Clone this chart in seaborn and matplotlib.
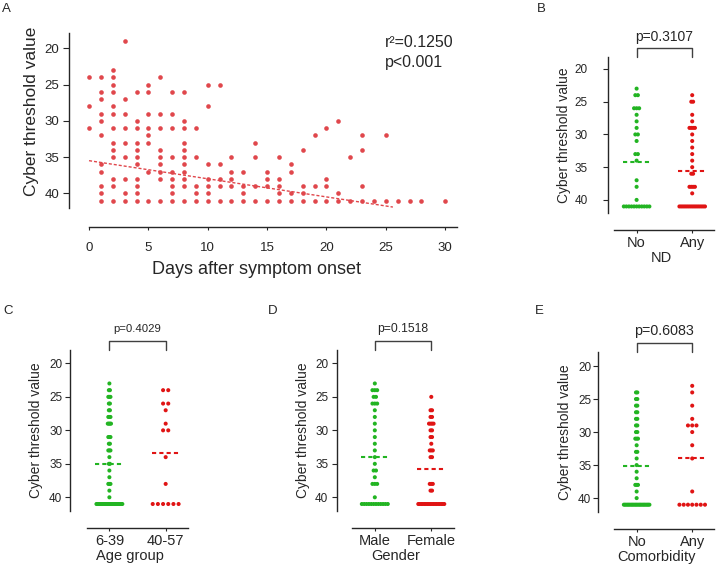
import numpy as np
import pandas as pd
import seaborn as sns
import matplotlib.pyplot as plt

# ---- panel A: one entry per dot, laid out day by day
onset_day = [
    0, 0, 0,
    1, 1, 1, 1, 1, 1, 1, 1, 1, 1, 1,
    2, 2, 2, 2, 2, 2, 2, 2, 2, 2, 2, 2, 2,
    3, 3, 3, 3, 3, 3, 3, 3, 3,
    4, 4, 4, 4, 4, 4, 4, 4, 4, 4, 4,
    5, 5, 5, 5, 5, 5, 5, 5,
    6, 6, 6, 6, 6, 6, 6, 6, 6,
    7, 7, 7, 7, 7, 7, 7, 7, 7,
    8, 8, 8, 8, 8, 8, 8, 8, 8, 8, 8,
    9, 9, 9, 9, 9,
    10, 10, 10, 10, 10, 10, 10,
    11, 11, 11, 11, 11,
    12, 12, 12, 12, 12,
    13, 13, 13, 13,
    14, 14, 14, 14,
    15, 15, 15, 15,
    16, 16, 16, 16, 16,
    17, 17, 17, 17,
    18, 18, 18, 18,
    19, 19, 19,
    20, 20, 20, 20,
    21, 21, 21,
    22, 22,
    23, 23, 23, 23,
    24,
    25, 25,
    26, 27, 28, 30,
]
ct_onset = [
    24, 28, 31,
    24, 26, 27, 29, 30, 32, 36, 37, 39, 40, 41,
    23, 24, 25, 26, 28, 29, 31, 33, 34, 35, 38, 39, 41,
    19, 27, 29, 31, 33, 35, 38, 40, 41,
    26, 30, 31, 33, 34, 35, 36, 38, 39, 40, 41,
    25, 26, 29, 31, 32, 33, 37, 41,
    24, 29, 31, 34, 35, 36, 37, 38, 41,
    26, 29, 31, 35, 37, 38, 39, 40, 41,
    26, 30, 31, 33, 34, 35, 36, 37, 38, 39, 41,
    31, 35, 39, 40, 41,
    25, 28, 36, 38, 39, 40, 41,
    25, 36, 38, 39, 41,
    35, 37, 38, 39, 41,
    37, 39, 40, 41,
    33, 35, 39, 41,
    37, 38, 39, 41,
    35, 38, 39, 40, 41,
    36, 37, 40, 41,
    34, 39, 40, 41,
    32, 39, 41,
    31, 38, 39, 41,
    30, 40, 41,
    35, 41,
    32, 34, 39, 41,
    41,
    32, 41,
    41, 41, 41, 41,
]
# regression line as drawn in the figure (fitted on all patients, many dots overlap)
fit_days = [0, 25.6]
fit_ct = [35.5, 41.9]
a_ticks_x = [0, 5, 10, 15, 20, 25, 30]
ct_ticks = [20, 25, 30, 35, 40]
a_stats = ["r²=0.1250", "p<0.001"]

# ---- panels B-E: two groups each
nd_labels = ["No", "Any"]
nd_no = [23, 24, 24, 26, 26, 26, 27, 28, 29, 30, 30, 31, 33, 33, 34, 37, 38, 40] + [41] * 11
nd_any = [24, 25, 25, 27, 28, 29, 29, 29, 29, 30, 31, 32, 33, 34, 35, 36, 36,
          38, 38, 38, 38, 39] + [41] * 15
nd_p = "p=0.3107"

age_labels = ["6-39", "40-57"]
age_young = [23, 24, 24, 25, 25, 25, 26, 26, 27, 27, 28, 28, 28, 29, 29, 29, 29,
             31, 31, 31, 32, 32, 33, 33, 33, 34, 35, 35, 36, 37, 38, 38, 38, 39, 40] + [41] * 25
age_old = [24, 24, 26, 26, 27, 29, 30, 30, 34, 38] + [41] * 6
age_p = "p=0.4029"

sex_labels = ["Male", "Female"]
sex_male = [23, 24, 24, 24, 25, 25, 26, 26, 26, 27, 28, 29, 30, 31, 32, 33, 34, 35,
            36, 36, 37, 38, 38, 38, 40] + [41] * 12
sex_female = [25, 27, 27, 28, 28, 29, 29, 29, 29, 30, 30, 31, 31, 32, 33, 33, 33,
              34, 34, 38, 38, 38, 39, 39] + [41] * 18
sex_p = "p=0.1518"

com_labels = ["No", "Any"]
com_no = [24, 24, 25, 25, 26, 26, 27, 27, 28, 28, 29, 29, 30, 30, 31, 31, 31, 32,
          33, 33, 34, 35, 36, 37, 38, 38, 38, 39, 40] + [41] * 20
com_any = [23, 24, 26, 28, 29, 29, 29, 30, 32, 34, 39] + [41] * 7
com_p = "p=0.6083"

GREEN = "#22b422"
RED = "#e01414"
A_RED = "#e0474c"
W, H = 716, 567

sns.set_style("ticks")
plt.rcParams["font.family"] = ["Liberation Sans", "DejaVu Sans"]
plt.rcParams["axes.linewidth"] = 1.0
plt.rcParams["axes.edgecolor"] = "0.15"

fig = plt.figure(figsize=(W / 100, H / 100), dpi=100)


def px_axes(x0, x1, y0, y1):
    return fig.add_axes([x0 / W, 1 - y1 / H, (x1 - x0) / W, (y1 - y0) / H])


def row_spread(values, span=0.46):
    # prism-like scatter: equal values sit side by side in one row
    vals = np.asarray(values)
    uniq = np.unique(vals)
    widest = max(np.sum(vals == v) for v in uniq)
    step = min(span / max(widest - 1, 1), 0.11)
    off = np.zeros(len(vals))
    for v in uniq:
        idx = np.flatnonzero(vals == v)
        off[idx] = (np.arange(len(idx)) - (len(idx) - 1) / 2) * step
    return off


# ---------------- A
ax = px_axes(68.5, 457, 33, 208)
sns.scatterplot(x=onset_day, y=ct_onset, color=A_RED, s=11, linewidth=0, ax=ax)
sns.lineplot(x=fit_days, y=fit_ct, color=A_RED, lw=1, ls=(0, (2.2, 1.4)), ax=ax)
ax.set_xlim(-1.73, 31)
ax.set_ylim(42.03, 17.89)
ax.set_xticks(a_ticks_x)
ax.set_yticks(ct_ticks)
sns.despine(ax=ax)
ax.spines["bottom"].set_position(("outward", 13.7))
ax.spines["bottom"].set_bounds(0, 31)
ax.tick_params(axis="x", labelsize=9.5, length=2.5, pad=8)
ax.tick_params(axis="y", labelsize=9.5, length=4.5, pad=2)
ax.set_xlabel("Days after symptom onset", fontsize=13)
ax.set_ylabel("Cyber threshold value", fontsize=12.5)
ax.xaxis.set_label_coords(0.483, -0.305)
ax.yaxis.set_label_coords(-0.075, 0.55)
ax.text(0.815, 0.943, a_stats[0], transform=ax.transAxes, fontsize=11.5, va="center")
ax.text(0.815, 0.829, a_stats[1], transform=ax.transAxes, fontsize=11.5, va="center")


# ---------------- B-E
def dot_panel(box, xlim, ylim, labels, groups, xlabel, ptext, psize, ypad):
    ax = px_axes(*box)
    df = pd.DataFrame({
        "group": np.repeat(labels, [len(g) for g in groups]),
        "ct": np.concatenate(groups),
    })
    df["pos"] = np.concatenate([i + row_spread(g) for i, g in enumerate(groups)])
    sns.scatterplot(data=df, x="pos", y="ct", hue="group", hue_order=labels,
                    palette=[GREEN, RED], s=8.5, linewidth=0, legend=False, ax=ax)
    for i, (g, col) in enumerate(zip(groups, [GREEN, RED])):
        m = np.mean(g)
        ax.plot([i - 0.25, i + 0.25], [m, m], ls=(0, (2, 1.5)), lw=1.5, color=col)
    ax.set_xlim(*xlim)
    ax.set_ylim(*ylim)
    ax.set_xticks([0, 1], labels)
    ax.set_yticks(ct_ticks)
    sns.despine(ax=ax)
    ax.spines["bottom"].set_position(("outward", 12.5))
    ax.spines["bottom"].set_bounds(-0.4, 1.4)
    ax.tick_params(axis="x", labelsize=10.5, length=2.5, pad=1.5)
    ax.tick_params(axis="y", labelsize=8.5, length=3.5, pad=ypad)
    ax.set_xlabel(xlabel, fontsize=10.5, labelpad=1)
    ax.set_ylabel("Cyber threshold value", fontsize=10)
    tr = ax.get_xaxis_transform()
    ax.plot([0, 0, 1, 1], [1.0, 1.055, 1.055, 1.0], transform=tr, clip_on=False,
            color="0.25", lw=1)
    ax.text(0.5, 1.13, ptext, transform=tr, ha="center", va="center", fontsize=psize)
    return ax


axB = dot_panel((607.7, 715, 57, 213), (-0.52, 1.41), (42.0, 18.17),
                nd_labels, [nd_no, nd_any], "ND", nd_p, 10, 11)
axB.yaxis.set_label_coords(-0.345, 0.5)
axC = dot_panel((70, 189.3, 350, 510.7), (-0.70, 1.42), (42.0, 18.0),
                age_labels, [age_young, age_old], "Age group", age_p, 8.2, 2)
axC.yaxis.set_label_coords(-0.224, 0.5)
axD = dot_panel((336.7, 455, 350, 510.7), (-0.675, 1.42), (42.0, 18.0),
                sex_labels, [sex_male, sex_female], "Gender", sex_p, 8.7, 2.5)
axD.yaxis.set_label_coords(-0.226, 0.5)
axE = dot_panel((598.3, 715, 351.7, 511.7), (-0.69, 1.41), (42.06, 17.83),
                com_labels, [com_no, com_any], "Comorbidity", com_p, 10.3, 1.5)
axE.yaxis.set_label_coords(-0.228, 0.5)

for letter, (x, y) in zip("ABCDE", [(2, 3), (537, 3), (3, 305), (268, 305), (535, 305)]):
    fig.text(x / W, 1 - y / H, letter, ha="left", va="top", fontsize=9.5)

fig.savefig("out.png", dpi=100)
